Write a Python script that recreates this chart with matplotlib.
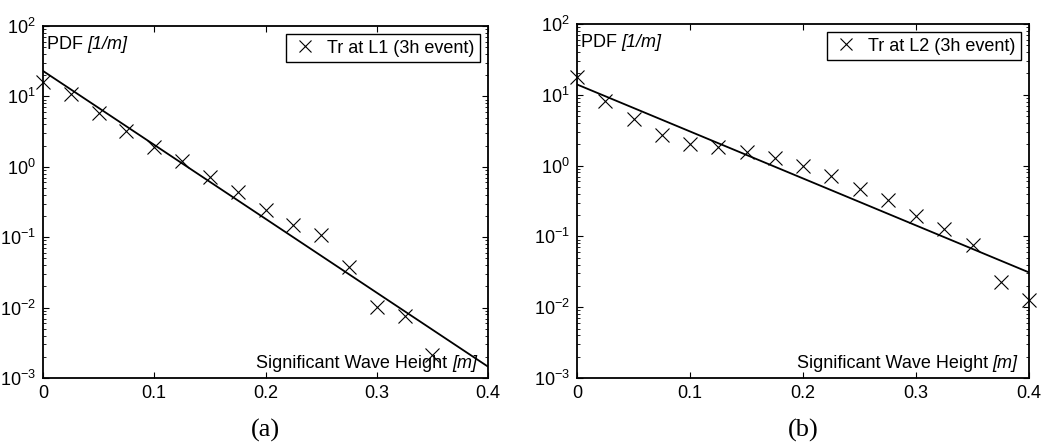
import numpy as np
import matplotlib
matplotlib.use("Agg")
import matplotlib.pyplot as plt
from matplotlib.ticker import LogLocator, FixedLocator, FixedFormatter

plt.rcParams['font.family'] = ['Liberation Sans', 'DejaVu Sans']
plt.rcParams['mathtext.fontset'] = 'custom'
plt.rcParams['mathtext.rm'] = 'Liberation Sans'
plt.rcParams['mathtext.it'] = 'Liberation Sans:italic'

# Data
hs = [0.0, 0.025, 0.05, 0.075, 0.1, 0.125, 0.15, 0.175, 0.2, 0.225, 0.25,
      0.275, 0.3, 0.325, 0.35, 0.375, 0.4]
pdf_L1 = [16, 10.7, 5.9, 3.26, 1.93, 1.22, 0.71, 0.435, 0.243, 0.149, 0.109,
          0.038, 0.0103, 0.0076, 0.0021]
pdf_L2 = [18, 8.1, 4.5, 2.68, 2.05, 1.82, 1.56, 1.28, 1.0, 0.72, 0.47,
          0.33, 0.196, 0.127, 0.076, 0.023, 0.0127]
fit_x = [0.0, 0.4]
fit_L1 = [23, 0.00145]
fit_L2 = [14, 0.031]
labels = ['Tr at L1 (3h event)', 'Tr at L2 (3h event)']
panel_tags = ['(a)', '(b)']
xticks = [0, 0.1, 0.2, 0.3, 0.4]
xticklabels = ['0', '0.1', '0.2', '0.3', '0.4']

fig = plt.figure(figsize=(10.44, 4.46), dpi=100)
positions = [[43/1044, 68/446, 445/1044, 352/446],
             [577/1044, 68/446, 452/1044, 354/446]]
datasets = [pdf_L1, pdf_L2]
fits = [fit_L1, fit_L2]

for i in range(2):
    ax = fig.add_axes(positions[i])
    y = datasets[i]
    ax.plot(hs[:len(y)], y, linestyle='none', marker='x', color='black',
            markersize=9.5, markeredgewidth=0.8, label=labels[i], clip_on=False)
    ax.plot(fit_x, fits[i], color='black', linewidth=1.3)
    ax.set_yscale('log')
    ax.set_xlim(0, 0.4)
    ax.set_ylim(1e-3, 1e2)
    ax.xaxis.set_major_locator(FixedLocator(xticks))
    ax.xaxis.set_major_formatter(FixedFormatter(xticklabels))
    ax.yaxis.set_major_locator(LogLocator(base=10, numticks=10))
    ax.yaxis.set_minor_locator(LogLocator(base=10, subs=np.arange(2, 10), numticks=10))
    ax.tick_params(which='both', direction='in', top=True, right=True,
                   labelsize=13, color='black')
    ax.tick_params(which='major', length=4, width=0.8, pad=5)
    ax.tick_params(which='minor', length=2, width=0.6)
    for s in ax.spines.values():
        s.set_linewidth(1.3)
        s.set_color('black')
    t1 = ax.text(0.008, 0.972, 'PDF ', transform=ax.transAxes,
                 ha='left', va='top', fontsize=13)
    ax.annotate('[1/m]', xy=(1, 0), xycoords=t1, ha='left', va='bottom',
                fontsize=13, style='italic')
    t2 = ax.text(0.975, 0.018, '[m]', transform=ax.transAxes,
                 ha='right', va='bottom', fontsize=13, style='italic')
    ax.annotate('Significant Wave Height ', xy=(0, 0), xycoords=t2,
                ha='right', va='bottom', fontsize=13)
    leg = ax.legend(loc='upper right', fontsize=13, frameon=True, fancybox=False,
                    edgecolor='black', framealpha=1, handlelength=1.5,
                    handletextpad=0.5, borderpad=0.3, borderaxespad=0.45,
                    markerscale=0.9)
    leg.get_frame().set_linewidth(1.0)
    ax.text(0.5, -0.148, panel_tags[i], transform=ax.transAxes, ha='center',
            va='center', fontsize=19, family='Liberation Serif')

fig.savefig('out.png', dpi=100)
